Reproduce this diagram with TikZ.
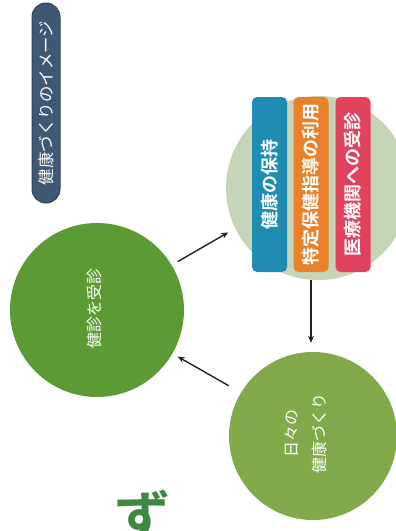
\documentclass[tikz,border=0pt]{standalone}
\usepackage{fontspec}
\newfontfamily\jpfont{Noto Sans CJK JP}[BoldFont={Noto Sans CJK JP Bold}]
\usetikzlibrary{arrows.meta}
\definecolor{titlebg}{HTML}{3F5874}
\definecolor{titleedge}{HTML}{2E4259}
\definecolor{pale}{HTML}{C6D4B8}
\definecolor{barblue}{HTML}{1F8DB3}
\definecolor{barorange}{HTML}{E9812B}
\definecolor{barred}{HTML}{E1435E}
\definecolor{darkgreen}{HTML}{5C9B33}
\definecolor{midgreen}{HTML}{82AA4B}
\definecolor{arrowcol}{HTML}{222222}
\definecolor{zgreen}{HTML}{3C8A3F}

\tikzset{
  pill/.style={rotate=90, rounded corners=14pt, minimum width=200pt, minimum height=28pt,
    inner sep=0pt, fill=titlebg, draw=titleedge, line width=1pt, text=white,
    font=\jpfont\fontsize{16.5}{16.5}\selectfont},
  bar/.style={rotate=90, rounded corners=5pt, minimum width=175pt, minimum height=35pt,
    inner sep=0pt, text=white, font=\jpfont\bfseries\fontsize{18}{18}\selectfont},
  ball/.style={circle, inner sep=0pt},
  caption/.style={rotate=90, text=white, align=center, inner sep=0pt,
    font=\jpfont\fontsize{16}{28}\selectfont},
  flow/.style={-{Stealth[length=7pt,width=6pt]}, line width=1.4pt, draw=arrowcol},
}

\begin{document}
\begin{tikzpicture}[x=1pt, y=-1pt]
  \useasboundingbox (0,0) rectangle (396,531);
  \clip (0,0) rectangle (396,531);
  \fill[white] (0,0) rectangle (396,531);

  % title
  \node[pill] (title) at (46,103) {健康づくりのイメージ};

  % upper right: three actions
  \node[ball, fill=pale, minimum size=184pt] (hoji) at (318,188) {};
  \node[bar, fill=barblue] (bar1) at (269.5,184.5) {健康の保持};
  \node[bar, fill=barorange] (bar2) at (311,184.5) {特定保健指導の利用};
  \node[bar, fill=barred] (bar3) at (353,184.5) {医療機関への受診};

  % left and bottom circles
  \node[ball, fill=darkgreen, minimum size=174pt] (kenshin) at (97,310) {};
  \node[caption] (kenshin-t) at (94,308) {健診を受診};
  \node[ball, fill=midgreen, minimum size=168pt] (nichijo) at (313,436) {};
  \node[caption] (nichijo-t) at (306,433) {日々の\\健康づくり};

  % cycle
  \draw[flow, shorten <=7pt, shorten >=8pt] (kenshin.31) -- (hoji.206);
  \draw[flow, shorten <=8pt, shorten >=9pt] (bar2.west) -- (bar2.west |- nichijo.north);
  \draw[flow, shorten <=14pt, shorten >=6pt] (nichijo.149) -- (kenshin.330);

  \node[text=zgreen, font=\jpfont\bfseries\fontsize{56}{56}\selectfont] (zu) at (142,516) {ず};
\end{tikzpicture}
\end{document}
